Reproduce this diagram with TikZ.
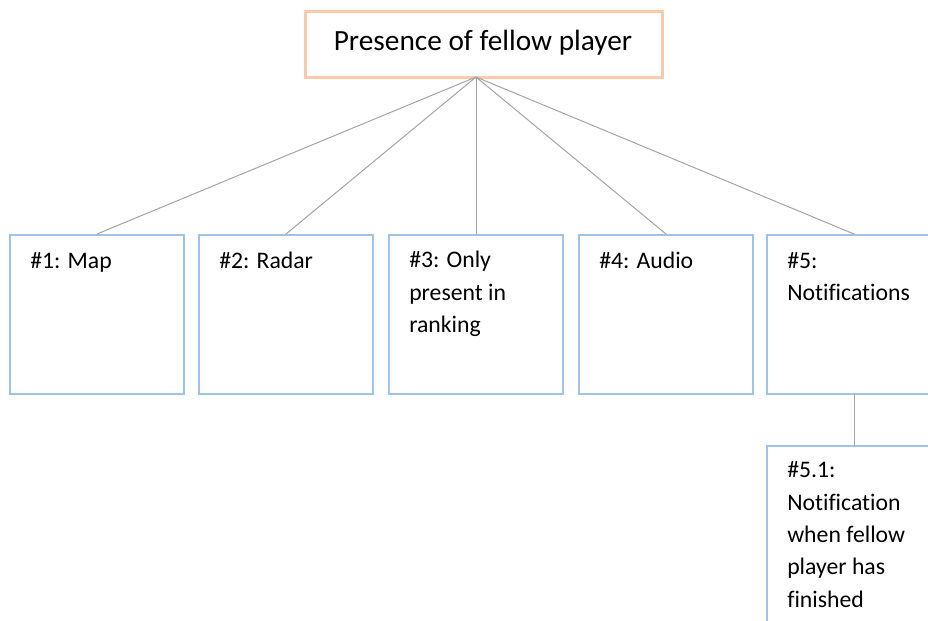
\documentclass[tikz,border=0pt]{standalone}
\usepackage{fontspec}
\setmainfont{Carlito}[Ligatures=CommonOff]
\definecolor{peach}{RGB}{248,203,173}
\definecolor{paleblue}{RGB}{157,195,230}
\definecolor{linkgray}{RGB}{165,165,165}
\begin{document}
\begin{tikzpicture}[x=0.75pt,y=-0.75pt,
  topbox/.style={draw=peach,line width=2.25pt,rectangle,inner sep=0pt,
    minimum width=357*0.75pt,minimum height=66*0.75pt,anchor=north west},
  leafbox/.style={draw=paleblue,line width=1.5pt,rectangle,inner sep=0pt,
    minimum width=174*0.75pt,minimum height=159*0.75pt,anchor=north west},
  toptext/.style={font=\fontsize{22}{26}\selectfont,inner sep=0pt,anchor=base},
  leaftext/.style={font=\fontsize{17.8}{24.2}\selectfont,inner sep=0pt,
    align=left,anchor=base west},
  link/.style={draw=linkgray,line width=0.75pt}]
\useasboundingbox (0,0) rectangle (928,621);
\clip (0,0) rectangle (928,621);
\fill[white] (0,0) rectangle (928,621);

% root
\node[topbox] (root) at (304,10) {};
\node[toptext] (roottxt) at (483,50) {Presence of fellow player};
\coordinate (hub) at (476,77);

% first level
\node[leafbox] (b1) at (9,234) {};
\node[leafbox] (b2) at (198,234) {};
\node[leafbox] (b3) at (388,234) {};
\node[leafbox] (b4) at (578,234) {};
\node[leafbox] (b5) at (766,234) {};

% second level
\node[leafbox,minimum height=200*0.75pt] (b51) at (766,445) {};

% connectors
\foreach \b in {b1,b2,b3,b4,b5}
  \draw[link] (hub) -- (\b.north);
\draw[link] (b5.south) -- (b51.north);

% labels (anchored at the baseline of their last line)
\node[leaftext] (t1) at (30,268) {\#1: Map};
\node[leaftext] (t2) at (219,268) {\#2: Radar};
\node[leaftext] (t3) at (409,332.5) {\#3: Only\\present in\\ranking};
\node[leaftext] (t4) at (599,268) {\#4: Audio};
\node[leaftext] (t5) at (787,300.3) {\#5:\\Notifications};
\node[leaftext] (t51) at (787,607) {\#5.1:\\Notification\\when fellow\\player has\\finished};
\end{tikzpicture}
\end{document}
